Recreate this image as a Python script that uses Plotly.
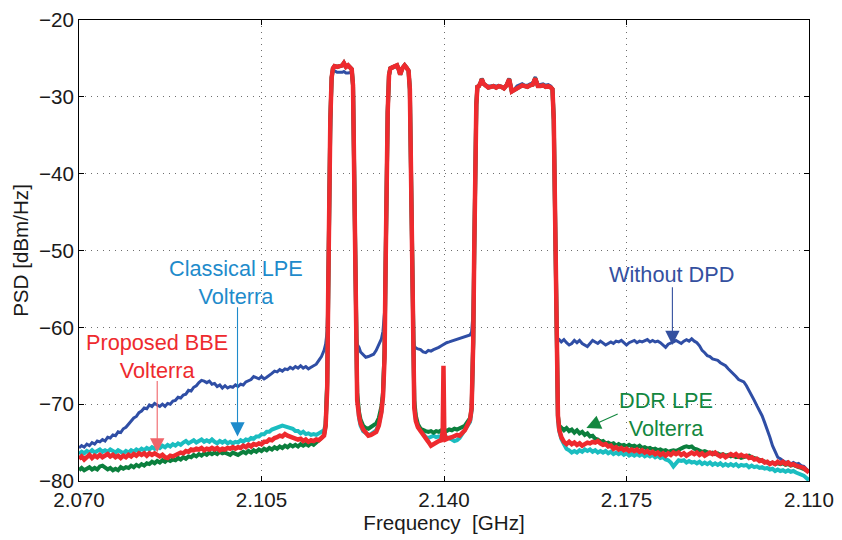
import numpy as np
import plotly.graph_objects as go

# ---------------------------------------------------------------------------
# PSD measurements, frequency given as offset in MHz from 2.070 GHz
# ---------------------------------------------------------------------------
f_start_ghz = 2.070

# lower adjacent band: 0 ... 46.5 MHz, 0.5 MHz bins
off_left = np.arange(0.0, 47.0, 0.5)
# carrier region (three carriers, finer bins around the edges)
off_mid = [
    47.0, 47.3, 47.6, 47.8, 48.0, 48.2, 48.45, 48.7, 49.0, 49.5,
    50.0, 50.5, 50.8, 51.2, 51.6, 52.0, 52.3, 52.55, 52.75, 52.95,
    53.15, 53.35, 53.7, 54.0, 54.5, 55.0, 55.5, 56.0, 56.5, 57.0,
    57.5, 58.0, 58.3, 58.6, 58.8, 59.0, 59.2, 59.45, 59.7, 60.0,
    60.5, 61.0, 61.3, 61.6, 62.0, 62.45, 62.8, 63.2, 63.45, 63.65,
    63.85, 64.05, 64.3, 64.6, 65.0, 65.5, 66.0, 66.5, 67.0, 67.5,
    68.0, 68.5, 69.0, 69.5, 69.75, 69.9, 70.05, 70.3, 70.5, 71.0,
    71.5, 72.0, 72.5, 73.0, 73.5, 74.0, 74.5, 75.0, 75.3, 75.6,
    75.8, 76.0, 76.2, 76.4, 76.7, 77.0, 77.25, 77.6, 78.0, 78.5,
    79.0, 79.5, 80.0, 80.5, 81.0, 81.5, 82.0, 82.5, 83.0, 83.5,
    84.0, 84.5, 85.0, 85.5, 86.0, 86.5, 87.0, 87.5, 88.0, 88.5,
    89.0, 89.5, 90.0, 90.5, 90.8, 91.05, 91.25, 91.45, 91.65, 91.85,
    92.1,
]
# upper adjacent band: 92.5 ... 140 MHz, 0.5 MHz bins
off_right = np.arange(92.5, 140.01, 0.5)

# ---- Without DPD ----------------------------------------------------------
psd_nodpd_left = [
    -75.7, -75.4, -75.6, -75.2, -75.4, -75.0, -75.2, -74.8, -74.9, -74.6,
    -74.8, -74.3, -74.4, -74.0, -74.1, -73.6, -73.7, -73.2, -73.0, -72.6,
    -72.3, -71.8, -71.6, -71.1, -70.9, -70.5, -70.6, -70.1, -70.3, -69.9,
    -70.1, -70.3, -70.0, -70.3, -69.9, -70.0, -69.6, -69.5, -69.1, -69.2,
    -68.8, -68.7, -68.2, -68.3, -67.8, -67.6, -67.2, -66.9, -67.0, -67.2,
    -67.0, -67.4, -67.3, -67.7, -67.5, -67.9, -67.6, -67.9, -67.7, -67.8,
    -67.5, -67.7, -67.4, -67.5, -67.1, -66.9, -66.8, -66.4, -66.5, -66.7,
    -66.4, -66.7, -66.5, -66.3, -66.0, -65.7, -65.8, -65.5, -65.7, -65.4,
    -65.5, -65.2, -65.4, -65.1, -65.3, -65.0, -65.3, -65.1, -65.4, -65.2,
    -65.0, -64.8, -64.3, -63.8,
]
psd_nodpd_mid = [
    -63.0, -62.2, -60.5, -54.0, -42.0, -33.0, -27.8, -26.6, -26.6, -26.8,
    -26.8, -26.8, -26.7, -26.9, -26.9, -26.8, -26.8, -28.8, -38.0, -52.0,
    -61.0, -62.2, -62.6, -63.2, -63.6, -63.9, -63.8, -63.7, -63.5, -63.0,
    -62.2, -61.5, -60.5, -58.0, -52.0, -40.0, -32.0, -27.2, -26.4, -26.3,
    -26.1, -26.0, -26.4, -27.0, -26.3, -25.9, -26.2, -26.6, -29.0, -40.0,
    -53.0, -61.0, -62.4, -62.7, -62.8, -62.9, -63.2, -63.3, -63.0, -63.1,
    -62.9, -62.8, -62.6, -62.4, -62.3, -62.2, -62.2, -62.1, -62.0, -61.9,
    -61.8, -61.7, -61.6, -61.5, -61.4, -61.2, -61.1, -61.0, -60.6, -58.0,
    -50.0, -38.0, -31.0, -28.7, -28.5, -28.1, -27.6, -28.2, -28.5, -28.6,
    -28.6, -28.5, -28.6, -28.5, -28.6, -28.8, -28.4, -27.6, -29.1, -29.0,
    -28.6, -28.5, -28.3, -28.5, -28.5, -28.3, -28.2, -27.4, -28.4, -28.4,
    -28.3, -28.5, -28.4, -28.6, -28.9, -33.0, -45.0, -57.0, -61.8, -61.7,
    -61.6,
]
psd_nodpd_right = [
    -61.9, -61.6, -62.0, -62.3, -62.1, -61.7, -62.0, -61.7, -62.1, -62.3,
    -62.5, -62.1, -61.7, -61.9, -62.1, -61.8, -62.0, -62.3, -62.1, -61.9,
    -62.1, -61.8, -61.9, -61.7, -62.0, -62.3, -62.0, -61.8, -61.7, -62.0,
    -61.8, -61.9, -61.7, -61.6, -61.9, -61.7, -61.9, -61.8, -62.0, -62.3,
    -62.6, -62.2, -62.1, -61.9, -61.7, -61.9, -62.1, -61.8, -61.6, -61.8,
    -61.5, -61.8, -62.0, -62.4, -63.0, -63.3, -63.7, -63.8, -64.1, -64.2,
    -64.3, -64.6, -64.8, -65.0, -65.4, -65.7, -66.1, -66.4, -66.8, -66.9,
    -67.1, -67.6, -68.2, -68.9, -69.5, -70.2, -70.8, -71.5, -72.4, -73.3,
    -74.3, -75.4, -76.2, -76.9, -77.1, -77.4, -77.6, -77.5, -77.8, -77.6,
    -77.8, -77.7, -78.0, -78.1, -78.4, -78.8,
]

# ---- Classical LPE Volterra -----------------------------------------------
psd_lpe_left = [
    -76.5, -76.2, -76.4, -76.1, -76.3, -76.0, -76.3, -76.1, -75.9, -76.2,
    -76.0, -76.2, -75.9, -76.1, -76.3, -76.0, -76.2, -76.4, -76.1, -76.3,
    -76.0, -76.2, -75.9, -76.1, -75.8, -76.0, -75.7, -75.9, -75.6, -75.8,
    -75.5, -75.7, -75.4, -75.6, -75.3, -75.5, -75.2, -75.4, -75.1, -75.3,
    -75.0, -74.8, -75.1, -74.9, -74.7, -75.0, -74.8, -74.6, -74.9, -74.7,
    -74.9, -74.6, -74.9, -75.1, -74.8, -75.0, -74.8, -75.1, -74.9, -75.1,
    -74.9, -75.0, -74.7, -74.9, -74.6, -74.7, -74.4, -74.5, -74.2, -74.2,
    -73.9, -73.9, -73.6, -73.6, -73.3, -73.2, -73.0, -72.9, -72.8, -72.9,
    -73.0, -73.2, -73.2, -73.5, -73.5, -73.8, -73.6, -73.9, -73.8, -74.0,
    -73.9, -74.0, -73.8, -73.6,
]
psd_lpe_mid = [
    -73.4, -72.6, -67.5, -55.0, -42.0, -33.0, -27.5, -26.3, -26.0, -26.1,
    -26.0, -25.9, -25.6, -26.1, -25.9, -26.1, -26.4, -28.5, -38.0, -52.0,
    -63.0, -69.0, -71.8, -72.8, -73.5, -73.8, -74.0, -73.9, -73.7, -73.4,
    -72.6, -71.0, -69.0, -63.0, -52.0, -40.0, -32.0, -27.2, -26.3, -26.2,
    -26.0, -25.9, -26.4, -27.1, -26.3, -25.9, -26.2, -26.6, -29.0, -40.0,
    -54.0, -65.0, -70.0, -72.0, -72.9, -73.4, -73.9, -74.3, -74.4, -74.2,
    -74.1, -74.3, -74.2, -74.4, -74.3, -74.2, -74.3, -74.4, -74.3, -74.4,
    -74.6, -74.8, -74.7, -74.4, -73.9, -73.5, -73.0, -72.3, -70.8, -62.0,
    -50.0, -38.0, -31.0, -28.7, -28.6, -28.2, -27.7, -28.3, -28.6, -28.8,
    -28.7, -28.6, -28.8, -28.6, -28.7, -28.9, -28.5, -27.7, -29.3, -29.1,
    -28.8, -28.7, -28.5, -28.6, -28.7, -28.5, -28.4, -27.6, -28.6, -28.6,
    -28.5, -28.7, -28.6, -28.8, -29.0, -33.0, -45.0, -57.0, -66.0, -72.0,
    -73.5,
]
psd_lpe_right = [
    -74.5, -75.2, -75.8, -76.0, -76.3, -76.1, -76.3, -76.0, -76.2, -75.9,
    -76.1, -75.9, -76.2, -76.0, -76.3, -76.1, -76.3, -76.1, -76.4, -76.2,
    -76.5, -76.3, -76.5, -76.3, -76.6, -76.4, -76.7, -76.5, -76.7, -76.5,
    -76.7, -76.5, -76.8, -76.6, -76.8, -76.6, -76.9, -76.7, -77.0, -76.9,
    -77.2, -77.3, -77.6, -78.1, -77.6, -77.3, -77.4, -77.3, -77.6, -77.4,
    -77.6, -77.5, -77.7, -77.5, -77.8, -77.6, -77.8, -77.6, -77.9, -77.7,
    -77.9, -77.7, -78.0, -77.8, -78.0, -77.8, -78.0, -77.8, -78.1, -77.9,
    -78.0, -77.9, -78.2, -78.0, -78.2, -78.1, -78.3, -78.2, -78.4, -78.3,
    -78.5, -78.4, -78.7, -78.5, -78.7, -78.6, -78.8, -78.6, -78.8, -78.7,
    -78.9, -79.0, -79.1, -79.3, -79.6, -79.9,
]

# ---- DDR LPE Volterra -----------------------------------------------------
psd_ddr_left = [
    -78.6, -78.3, -78.6, -78.4, -78.2, -78.5, -78.3, -78.5, -78.1, -78.0,
    -78.3, -78.5, -78.3, -78.6, -78.4, -78.6, -78.2, -78.4, -78.2, -78.3,
    -78.0, -78.2, -77.9, -78.1, -77.8, -78.0, -77.7, -77.8, -77.5, -77.7,
    -77.4, -77.6, -77.3, -77.5, -77.2, -77.4, -77.2, -77.3, -77.0, -77.2,
    -76.9, -77.1, -76.8, -76.9, -76.6, -76.8, -76.5, -76.7, -76.4, -76.6,
    -76.3, -76.5, -76.3, -76.5, -76.2, -76.4, -76.3, -76.5, -76.6, -76.3,
    -76.5, -76.6, -76.4, -76.2, -76.4, -76.1, -76.3, -76.0, -76.2, -75.9,
    -76.1, -75.8, -76.0, -75.7, -75.9, -75.6, -75.8, -75.5, -75.7, -75.4,
    -75.6, -75.3, -75.5, -75.3, -75.5, -75.2, -75.4, -75.2, -75.4, -75.1,
    -75.3, -75.0, -74.8, -74.4,
]
psd_ddr_mid = [
    -74.0, -72.8, -67.0, -55.0, -42.0, -33.0, -27.5, -26.3, -26.0, -26.1,
    -26.0, -25.9, -25.6, -26.1, -25.9, -26.1, -26.4, -28.5, -38.0, -52.0,
    -62.5, -68.5, -71.0, -72.0, -72.8, -73.1, -73.2, -73.0, -72.8, -72.5,
    -71.8, -70.3, -68.5, -63.0, -52.0, -40.0, -32.0, -27.2, -26.3, -26.2,
    -26.0, -25.9, -26.4, -27.1, -26.3, -25.9, -26.2, -26.6, -29.0, -40.0,
    -54.0, -64.5, -69.5, -71.5, -72.6, -73.2, -73.4, -73.5, -73.6, -73.5,
    -73.7, -73.5, -73.6, -73.4, -73.5, -73.4, -73.5, -73.4, -73.5, -73.3,
    -73.4, -73.2, -73.3, -73.1, -73.0, -72.8, -72.3, -71.8, -70.5, -62.0,
    -50.0, -38.0, -31.0, -28.7, -28.6, -28.2, -27.7, -28.3, -28.6, -28.8,
    -28.7, -28.6, -28.8, -28.6, -28.7, -28.9, -28.5, -27.7, -29.3, -29.1,
    -28.8, -28.7, -28.5, -28.6, -28.7, -28.5, -28.4, -27.6, -28.6, -28.6,
    -28.5, -28.7, -28.6, -28.8, -29.0, -33.0, -45.0, -57.0, -66.0, -71.5,
    -72.8,
]
psd_ddr_right = [
    -73.0, -73.4, -73.1, -73.5, -73.3, -73.7, -73.4, -73.8, -73.6, -74.0,
    -73.8, -74.2, -74.1, -74.5, -74.6, -74.9, -74.8, -75.1, -75.0, -75.2,
    -75.1, -75.4, -75.2, -75.4, -75.3, -75.5, -75.3, -75.5, -75.4, -75.6,
    -75.4, -75.7, -75.6, -75.8, -75.7, -75.9, -75.8, -76.0, -75.9, -76.1,
    -76.0, -76.2, -76.1, -76.0, -76.1, -75.9, -75.7, -75.6, -75.5, -75.6,
    -75.5, -75.8, -75.9, -76.0, -76.2, -76.1, -76.3, -76.4, -76.3, -76.5,
    -76.4, -76.6, -76.5, -76.7, -76.6, -76.8, -76.7, -76.9, -76.8, -77.0,
    -76.9, -76.8, -76.7, -76.9, -77.0, -77.1, -77.2, -77.3, -77.4, -77.6,
    -77.7, -77.6, -77.8, -77.7, -77.8, -77.7, -77.9, -77.8, -78.0, -77.9,
    -78.1, -78.2, -78.3, -78.4, -78.6, -78.8,
]

# ---- Proposed BBE Volterra ------------------------------------------------
psd_bbe_left = [
    -77.1, -76.8, -77.2, -76.9, -76.6, -77.0, -76.7, -76.9, -76.6, -76.9,
    -76.7, -76.5, -76.8, -76.6, -76.9, -76.7, -77.0, -76.7, -76.9, -76.6,
    -76.8, -76.5, -76.7, -76.4, -76.6, -76.4, -76.7, -76.4, -76.6, -76.4,
    -76.6, -76.8, -76.6, -76.9, -77.0, -76.7, -76.8, -76.6, -76.5, -76.3,
    -76.4, -76.1, -76.2, -75.9, -76.0, -75.8, -75.9, -75.7, -76.0, -75.8,
    -75.9, -75.7, -75.9, -75.7, -76.0, -75.8, -75.9, -75.7, -75.8, -75.6,
    -75.8, -75.6, -75.7, -75.4, -75.6, -75.3, -75.5, -75.2, -75.3, -75.1,
    -75.2, -74.9, -74.9, -74.6, -74.7, -74.4, -74.3, -74.1, -74.2, -73.9,
    -74.1, -74.2, -74.4, -74.4, -74.6, -74.5, -74.8, -74.6, -74.9, -74.7,
    -74.8, -74.6, -74.7, -74.4,
]
psd_bbe_mid = [
    -74.1, -72.8, -68.0, -55.0, -42.0, -33.0, -27.5, -26.3, -26.0, -26.1,
    -26.0, -25.9, -25.6, -26.1, -25.9, -26.1, -26.4, -28.5, -38.0, -52.0,
    -63.0, -69.5, -71.5, -72.5, -73.3, -73.7, -74.1, -74.0, -73.8, -73.6,
    -72.8, -71.0, -69.0, -64.0, -52.0, -40.0, -32.0, -27.2, -26.3, -26.2,
    -26.0, -25.9, -26.4, -27.1, -26.3, -25.9, -26.2, -26.6, -29.0, -40.0,
    -55.0, -66.0, -70.5, -72.2, -73.0, -73.5, -73.9, -74.4, -74.9, -75.4,
    -75.2, -74.9, -74.8, -74.7, -73.5, -65.0, -73.5, -74.6, -74.5, -74.4,
    -74.3, -74.2, -74.0, -74.1, -73.8, -73.4, -72.7, -72.0, -70.5, -62.0,
    -50.0, -38.0, -31.0, -28.7, -28.6, -28.2, -27.7, -28.3, -28.6, -28.8,
    -28.7, -28.6, -28.8, -28.6, -28.7, -28.9, -28.5, -27.7, -29.3, -29.1,
    -28.8, -28.7, -28.5, -28.6, -28.7, -28.5, -28.4, -27.6, -28.6, -28.6,
    -28.5, -28.7, -28.6, -28.8, -29.0, -33.0, -45.0, -57.0, -66.0, -71.5,
    -73.3,
]
psd_bbe_right = [
    -74.3, -74.9, -75.2, -74.9, -75.2, -75.0, -75.3, -75.1, -75.4, -75.2,
    -75.0, -75.1, -74.9, -75.0, -74.8, -75.1, -75.3, -75.2, -75.5, -75.4,
    -75.8, -75.6, -75.9, -75.7, -76.0, -75.8, -76.1, -75.9, -76.1, -75.9,
    -76.2, -76.0, -76.3, -76.1, -76.4, -76.2, -76.5, -76.3, -76.6, -76.4,
    -76.7, -76.4, -76.6, -76.3, -76.5, -76.3, -76.6, -76.4, -76.7, -76.5,
    -76.3, -76.5, -76.3, -76.6, -76.4, -76.7, -76.5, -76.3, -76.5, -76.3,
    -76.6, -76.8, -76.6, -76.9, -76.7, -76.5, -76.7, -76.5, -76.8, -76.6,
    -76.8, -76.7, -77.0, -76.9, -77.2, -77.1, -77.4, -77.3, -77.6, -77.5,
    -77.8, -77.6, -77.8, -77.5, -77.7, -77.5, -77.8, -77.6, -77.9, -77.8,
    -78.0, -78.1, -78.3, -78.3, -78.6, -78.9,
]

# axis ticks as printed on the figure
x_tick_vals = [2.070, 2.105, 2.140, 2.175, 2.210]
x_tick_text = ["2.070", "2.105", "2.140", "2.175", "2.110"]
y_tick_vals = [-80, -70, -60, -50, -40, -30, -20]

# ---------------------------------------------------------------------------
freq_ghz = f_start_ghz + np.concatenate([off_left, off_mid, off_right]) / 1000.0


def series(left, mid, right):
    assert len(left) == len(off_left), (len(left), len(off_left))
    assert len(mid) == len(off_mid), (len(mid), len(off_mid))
    assert len(right) == len(off_right), (len(right), len(off_right))
    return np.concatenate([left, mid, right])


traces = [
    ("Without DPD", series(psd_nodpd_left, psd_nodpd_mid, psd_nodpd_right), "#2F4EA5", 3.0),
    ("Classical LPE Volterra", series(psd_lpe_left, psd_lpe_mid, psd_lpe_right), "#1BBDC0", 4.0),
    ("DDR LPE Volterra", series(psd_ddr_left, psd_ddr_mid, psd_ddr_right), "#0B7F3D", 4.0),
    ("Proposed BBE Volterra", series(psd_bbe_left, psd_bbe_mid, psd_bbe_right), "#EE2A2E", 4.5),
]

FONT = "Liberation Sans, Arial, Helvetica, sans-serif"

fig = go.Figure()
for name, psd, color, width in traces:
    fig.add_trace(go.Scatter(
        x=freq_ghz, y=psd, mode="lines", name=name,
        line=dict(color=color, width=width, shape="linear"),
        showlegend=False, hoverinfo="skip",
    ))

# text labels and arrows pointing at their curves
labels = [
    # text, x, y, color
    ("Classical LPE<br>Volterra", 2.1002, -54.1, "#1E8BCB"),
    ("Proposed BBE<br>Volterra", 2.0850, -63.8, "#EE2A2E"),
    ("Without DPD", 2.1837, -53.1, "#34509F"),
    ("DDR LPE<br>Volterra", 2.1826, -71.4, "#13873F"),
]
arrows = [
    # tail x, tail y, head x, head y, color
    (2.1004, -57.2, 2.1004, -74.2, "#1E8BCB"),
    (2.0850, -66.8, 2.0850, -76.3, "#F0646A"),
    (2.1838, -54.6, 2.1838, -62.3, "#34509F"),
    (2.1736, -71.2, 2.1673, -73.1, "#13873F"),
]
annotations = []
for text, x, y, color in labels:
    annotations.append(dict(
        x=x, y=y, xref="x", yref="y", text=text, showarrow=False,
        font=dict(family=FONT, size=21.7, color=color), align="center",
        xanchor="center", yanchor="middle",
    ))
for x0, y0, x1, y1, color in arrows:
    annotations.append(dict(
        x=x1, y=y1, ax=x0, ay=y0, xref="x", yref="y", axref="x", ayref="y",
        text="", showarrow=True, arrowhead=2, arrowsize=2.6, arrowwidth=1.1,
        arrowcolor=color, standoff=0, startstandoff=0,
    ))

axis_common = dict(
    showline=True, linecolor="black", linewidth=1, mirror="ticks",
    ticks="inside", ticklen=5, tickwidth=1, tickcolor="black",
    showgrid=True, gridcolor="#6e6e6e", gridwidth=1, griddash="1px,5px",
    zeroline=False, ticklabeloverflow="allow",
    tickfont=dict(family=FONT, size=20.6, color="#1a1a1a"),
)

fig.update_layout(
    width=842, height=540,
    margin=dict(l=79, r=30, t=8, b=59),
    paper_bgcolor="white", plot_bgcolor="white",
    font=dict(family=FONT, size=20.6, color="#1a1a1a"),
    xaxis=dict(
        range=[2.070, 2.210], tickvals=x_tick_vals, ticktext=x_tick_text,
        title=dict(text="Frequency\u00a0 [GHz]", font=dict(family=FONT, size=20.6), standoff=2),
        **axis_common,
    ),
    yaxis=dict(
        range=[-80, -20], tickvals=y_tick_vals,
        title=dict(text="PSD [dBm/Hz]", font=dict(family=FONT, size=20.6), standoff=4),
        **axis_common,
    ),
    annotations=annotations,
    showlegend=False,
)

fig.write_html("out.html", include_plotlyjs=True, full_html=True,
               config=dict(displayModeBar=False))
